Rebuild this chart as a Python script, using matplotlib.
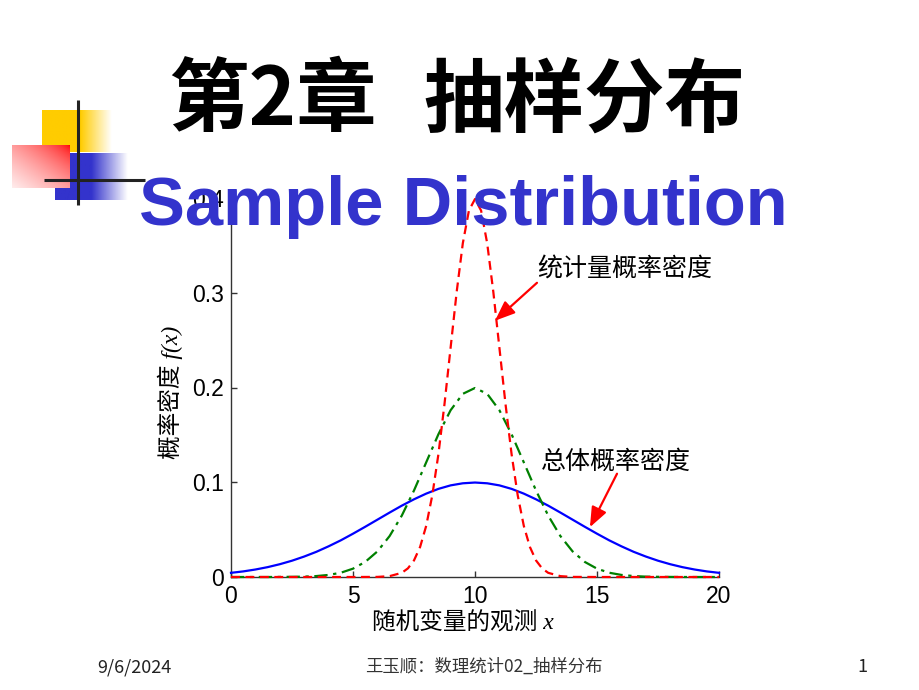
import numpy as np
import matplotlib
matplotlib.use("Agg")
import matplotlib.pyplot as plt

# ---------------- data ----------------
blue_x = [0, 0.5, 1, 1.5, 2, 2.5, 3, 3.5, 4, 4.5, 5, 5.5, 6, 6.5, 7, 7.5, 8, 8.5, 9, 9.5,
          10, 10.5, 11, 11.5, 12, 12.5, 13, 13.5, 14, 14.5, 15, 15.5, 16, 16.5, 17, 17.5,
          18, 18.5, 19, 19.5, 20]
blue_y = [0.0044, 0.0059, 0.0079, 0.0104, 0.0135, 0.0172, 0.0216, 0.0266, 0.0324, 0.0387,
          0.0457, 0.0530, 0.0605, 0.0680, 0.0753, 0.0820, 0.0880, 0.0930, 0.0967, 0.0989,
          0.0997, 0.0989, 0.0967, 0.0930, 0.0880, 0.0820, 0.0753, 0.0680, 0.0605, 0.0530,
          0.0457, 0.0387, 0.0324, 0.0266, 0.0216, 0.0172, 0.0135, 0.0104, 0.0079, 0.0059,
          0.0044]

green_x = blue_x
green_y = [0, 0, 0, 0, 0.0001, 0.0002, 0.0004, 0.0010, 0.0022, 0.0045, 0.0088, 0.0159,
           0.0270, 0.0432, 0.0648, 0.0913, 0.1210, 0.1506, 0.1760, 0.1933, 0.1995, 0.1933,
           0.1760, 0.1506, 0.1210, 0.0913, 0.0648, 0.0432, 0.0270, 0.0159, 0.0088, 0.0045,
           0.0022, 0.0010, 0.0004, 0.0002, 0.0001, 0, 0, 0, 0]

red_x = [0, 5, 6, 6.5, 7, 7.25, 7.5, 7.75, 8, 8.25, 8.5, 8.75, 9, 9.25, 9.5, 9.75, 10,
         10.25, 10.5, 10.75, 11, 11.25, 11.5, 11.75, 12, 12.25, 12.5, 12.75, 13, 13.5, 14,
         15, 20]
red_y = [0, 0, 0.0001, 0.0009, 0.0044, 0.0091, 0.0175, 0.0317, 0.0540, 0.0863, 0.1295,
         0.1826, 0.2420, 0.3011, 0.3521, 0.3867, 0.3989, 0.3867, 0.3521, 0.3011, 0.2420,
         0.1826, 0.1295, 0.0863, 0.0540, 0.0317, 0.0175, 0.0091, 0.0044, 0.0009, 0.0001,
         0, 0]

xticks = [0, 5, 10, 15, 20]
xtick_labels = ["0", "5", "10", "15", "20"]
yticks = [0, 0.1, 0.2, 0.3, 0.4]
ytick_labels = ["0", "0.1", "0.2", "0.3", "0.4"]

title_cn_a = "第2章"
title_cn_b = "抽样分布"
title_en = "Sample Distribution"
ylabel_text = "概率密度 f(x)"
xlabel_text = "随机变量的观测 x"
note_stat = "统计量概率密度"
note_pop = "总体概率密度"
footer_left = "9/6/2024"
footer_mid = "王玉顺：数理统计02_抽样分布"
footer_right = "1"

# annotation anchor points (data coords)
stat_arrow_head = (10.82, 0.2705)
stat_arrow_tail = (12.54, 0.3105)
stat_text_pos = (12.55, 0.325)
pop_arrow_head = (14.71, 0.0526)
pop_arrow_tail = (15.82, 0.109)
pop_text_pos = (12.7, 0.121)

# ---------------- figure ----------------
W, H = 920, 690
fig = plt.figure(figsize=(W / 100, H / 100), dpi=100)
fig.patch.set_facecolor("white")

def fx(x):
    return x / W

def fy(y):
    return 1 - y / H

CJK = ["Noto Sans CJK SC", "DejaVu Sans"]
SERIF_CJK = ["Liberation Serif", "Noto Sans CJK SC", "DejaVu Serif"]

# background decoration axes (pixel coordinates)
bg = fig.add_axes([0, 0, 1, 1], zorder=0)
bg.axis("off")

def hgrad(c, n, solid):
    t = np.linspace(0, 1, n)
    f = np.clip((t - solid) / (1 - solid), 0, 1)
    c = np.array(c) / 255.0
    rgb = c[None, :] * (1 - f[:, None]) + f[:, None]
    return rgb[None, :, :]

yellow = hgrad((255, 204, 0), 120, 0.55)
bg.imshow(yellow, extent=(42, 112, 152, 110), aspect="auto", interpolation="bilinear", zorder=1)
blue = hgrad((51, 51, 204), 120, 0.50)
bg.imshow(blue, extent=(55, 128, 200, 153), aspect="auto", interpolation="bilinear", zorder=2)
u = np.linspace(0, 1, 60)[None, :]
v = np.linspace(0, 1, 50)[:, None]
f = np.clip(((1 - u) + v) / 2, 0, 1) ** 0.6
red_c = np.array([255, 0, 0]) / 255.0
pink_c = np.array([255, 236, 236]) / 255.0
red_img = red_c[None, None, :] * (1 - f[..., None]) + pink_c[None, None, :] * f[..., None]
bg.imshow(red_img, extent=(12, 70, 188, 145), aspect="auto", interpolation="bilinear", zorder=3)
bg.plot([78, 78], [100, 205], color="#222222", lw=2.2, zorder=4, solid_capstyle="butt")
bg.plot([44, 145], [180, 180], color="#222222", lw=2.2, zorder=4, solid_capstyle="butt")
bg.set_xlim(0, W)
bg.set_ylim(H, 0)

# chart axes
L, R, T, B = 231, 719, 198, 577
ax = fig.add_axes([fx(L), fy(B), (R - L) / W, (B - T) / H], zorder=1)
ax.set_facecolor("none")
ax.plot(blue_x, blue_y, color="#0000FF", lw=1.6, clip_on=False, zorder=3)
ax.plot(green_x, green_y, color="#008000", lw=1.6, ls=(0, (6, 2.5, 1.5, 2.5)), clip_on=False, zorder=4)
ax.plot(red_x, red_y, color="#FF0000", lw=1.6, ls=(0, (4, 2.5)), clip_on=False, zorder=5)
ax.set_xlim(0, 20)
ax.set_ylim(0, 0.4)
for s in ("top", "right"):
    ax.spines[s].set_visible(False)
for s in ("left", "bottom"):
    ax.spines[s].set_color("#333333")
    ax.spines[s].set_linewidth(1.0)
ax.set_xticks(xticks)
ax.set_xticklabels(xtick_labels)
ax.set_yticks(yticks)
ax.set_yticklabels(ytick_labels)
ax.tick_params(direction="in", length=4, width=1, color="#333333", labelsize=16.5)
ax.tick_params(axis="x", pad=6)
ax.tick_params(axis="y", pad=5)
for lab in ax.get_xticklabels() + ax.get_yticklabels():
    lab.set_fontfamily("Liberation Sans")

arrow_kw = dict(arrowstyle="-|>,head_length=0.55,head_width=0.22", color="#FF0000",
                lw=1.6, mutation_scale=22, shrinkA=0, shrinkB=0)
ax.annotate("", xy=stat_arrow_head, xytext=stat_arrow_tail, arrowprops=arrow_kw,
            annotation_clip=False)
ax.annotate("", xy=pop_arrow_head, xytext=pop_arrow_tail, arrowprops=arrow_kw,
            annotation_clip=False)
ax.text(stat_text_pos[0], stat_text_pos[1], note_stat, fontsize=18, family=CJK,
        ha="left", va="center", color="black", clip_on=False)
ax.text(pop_text_pos[0], pop_text_pos[1], note_pop, fontsize=18, family=CJK,
        ha="left", va="center", color="black", clip_on=False)

# axis labels (CJK with italic serif latin letters)
fig.text(fx(170), fy(392), ylabel_text, rotation=90, fontsize=17, family=SERIF_CJK,
         style="italic", ha="center", va="center", color="black")
fig.text(fx(463), fy(622), xlabel_text, fontsize=17, family=SERIF_CJK, style="italic",
         ha="center", va="center", color="black")

# titles
fig.text(fx(168), fy(102), title_cn_a, fontsize=58, family=CJK, weight="bold",
         ha="left", va="center", color="black", zorder=10)
fig.text(fx(423), fy(102), title_cn_b, fontsize=58, family=CJK, weight="bold",
         ha="left", va="center", color="black", zorder=10)
fig.text(fx(139), fy(225), title_en, fontsize=49.5, family="Liberation Sans", weight="bold",
         ha="left", va="baseline", color="#3333CC", zorder=10)

# footer
fig.text(fx(97), fy(667), footer_left, fontsize=13, family=CJK, ha="left", va="center",
         color="#222222")
fig.text(fx(484), fy(667), footer_mid, fontsize=12.5, family=CJK, ha="center", va="center",
         color="#333333")
fig.text(fx(862), fy(667), footer_right, fontsize=13, family=CJK, ha="center", va="center",
         color="#222222")

fig.savefig("out.png", dpi=100, facecolor="white")
